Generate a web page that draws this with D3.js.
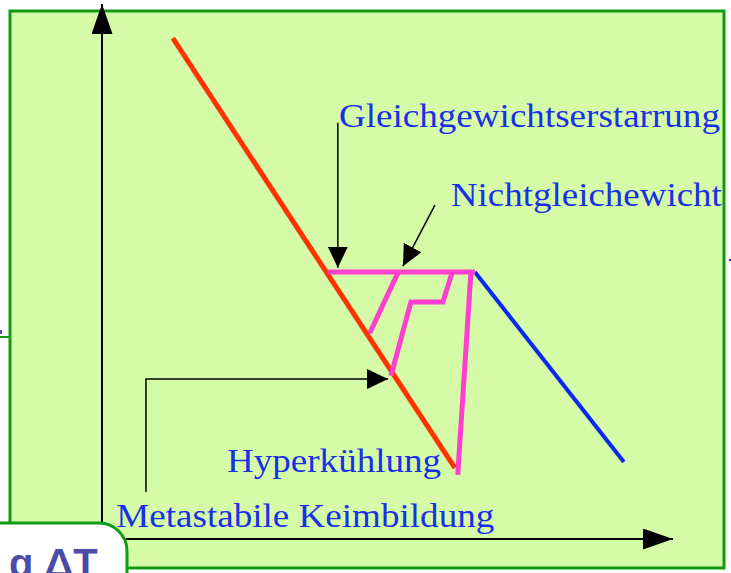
<!DOCTYPE html>
<html lang="de">
<head>
  <meta charset="UTF-8">
  <title>Erstarrung - Unterkühlung</title>
  <script src="https://d3js.org/d3.v7.min.js"></script>
  <style>
    html, body { margin: 0; padding: 0; background: #ffffff; }
    svg { display: block; }
    .label {
      font-family: 'Liberation Serif', 'Times New Roman', serif;
      font-size: 34px;
      fill: #1a30e8;
    }
    .badge {
      font-family: 'Liberation Sans', Arial, sans-serif;
      font-size: 40px;
      font-weight: 700;
      fill: #4b4ba8;
    }
  </style>
</head>
<body>
  <svg id="chart" width="731" height="573"></svg>

  <script>
    // data coordinates: x = Zeit (0..100), y = Temperatur (0..100)
    const gleichgewichtLine = [[12.4, 93.6], [61.8, 13.3]];        // red
    const nichtgleichLine   = [[65.3, 49.9], [91.4, 14.4]];        // blue
    const plateau           = [[39.6, 49.9], [65.3, 49.9]];        // pink horizontal
    const branches = [
      [[51.8, 49.7], [46.9, 38.5]],
      [[61.3, 49.7], [59.7, 44.3], [54.1, 44.3], [50.6, 30.5]],
      [[64.6, 49.7], [62.3, 12.0]]
    ];
    const pointers = [
      [[41.3, 77.8], [41.3, 50.7]],                 // Gleichgewichtserstarrung
      [[58.3, 62.4], [52.7, 51.0]],                 // Nichtgleichewicht
      [[7.7, 8.8], [7.7, 29.9], [50.1, 29.9]]       // Metastabile Keimbildung
    ];
    const labels = ["Gleichgewichtserstarrung", "Nichtgleichewicht", "Hyperkühlung", "Metastabile Keimbildung"];
    const labelAnchors = [[41.5, 77.0], [61.1, 62.2], [21.9, 12.5], [2.5, 2.2]];
    const labelWidths = [381, 271, 214, 378];

    const svg = d3.select("#chart");

    const x = d3.scaleLinear().domain([0, 100]).range([102, 673]);
    const y = d3.scaleLinear().domain([0, 100]).range([539, 4]);

    const line = d3.line().x(d => x(d[0])).y(d => y(d[1]));

    // arrow markers
    const defs = svg.append("defs");
    function marker(id, len, half) {
      defs.append("marker")
        .attr("id", id)
        .attr("markerUnits", "userSpaceOnUse")
        .attr("viewBox", `0 ${-half} ${len} ${half * 2}`)
        .attr("refX", len).attr("refY", 0)
        .attr("markerWidth", len).attr("markerHeight", half * 2)
        .attr("orient", "auto")
        .append("path")
        .attr("d", `M0,${-half}L${len},0L0,${half}Z`)
        .attr("fill", "#000");
    }
    marker("axisHead", 30, 10.5);
    marker("ptrHead", 21, 10);

    // panel
    svg.append("rect")
      .attr("x", 10).attr("y", 11)
      .attr("width", 714).attr("height", 557)
      .attr("fill", "#d5fba8")
      .attr("stroke", "#129a12").attr("stroke-width", 3);

    // cut-off bits at the edges
    svg.append("line").attr("x1", 0).attr("x2", 10).attr("y1", 337).attr("y2", 337)
      .attr("stroke", "#129a12").attr("stroke-width", 2);
    svg.append("rect").attr("x", 0).attr("y", 330).attr("width", 2).attr("height", 4).attr("fill", "#4b4ba8");
    svg.append("rect").attr("x", 729).attr("y", 259).attr("width", 2).attr("height", 2).attr("fill", "#1a30e8");

    // axes
    svg.append("path")
      .attr("d", line([[0, 0.5], [0, 100]]))
      .attr("stroke", "#000").attr("stroke-width", 2).attr("fill", "none")
      .attr("marker-end", "url(#axisHead)");
    svg.append("path")
      .attr("d", line([[0, 0], [100, 0]]))
      .attr("stroke", "#000").attr("stroke-width", 2).attr("fill", "none")
      .attr("marker-end", "url(#axisHead)");

    // curves
    svg.append("path").datum(gleichgewichtLine)
      .attr("d", line).attr("stroke", "#ff3300").attr("stroke-width", 5).attr("fill", "none");
    svg.append("path").datum(nichtgleichLine)
      .attr("d", line).attr("stroke", "#0a28f0").attr("stroke-width", 4).attr("fill", "none");
    svg.append("path").datum(plateau)
      .attr("d", line).attr("stroke", "#ff3fcf").attr("stroke-width", 5).attr("fill", "none");
    branches.forEach(b => {
      svg.append("path").datum(b)
        .attr("d", line).attr("stroke", "#ff3fcf").attr("stroke-width", 5)
        .attr("fill", "none").attr("stroke-linejoin", "miter");
    });

    // pointers
    pointers.forEach(p => {
      svg.append("path").datum(p)
        .attr("d", line).attr("stroke", "#000").attr("stroke-width", 1.5).attr("fill", "none")
        .attr("marker-end", "url(#ptrHead)");
    });

    // labels
    labels.forEach((t, i) => {
      svg.append("text")
        .attr("class", "label")
        .attr("x", x(labelAnchors[i][0]))
        .attr("y", y(labelAnchors[i][1]))
        .attr("textLength", labelWidths[i])
        .attr("lengthAdjust", "spacingAndGlyphs")
        .text(t);
    });

    // overlapping rounded badge, bottom left
    svg.append("rect")
      .attr("x", -40).attr("y", 523)
      .attr("width", 167).attr("height", 90)
      .attr("rx", 28).attr("ry", 28)
      .attr("fill", "#ffffff")
      .attr("stroke", "#129a12").attr("stroke-width", 3);
    svg.append("text")
      .attr("class", "badge")
      .attr("x", 9).attr("y", 577)
      .text("g ΔT");
  </script>
</body>
</html>
